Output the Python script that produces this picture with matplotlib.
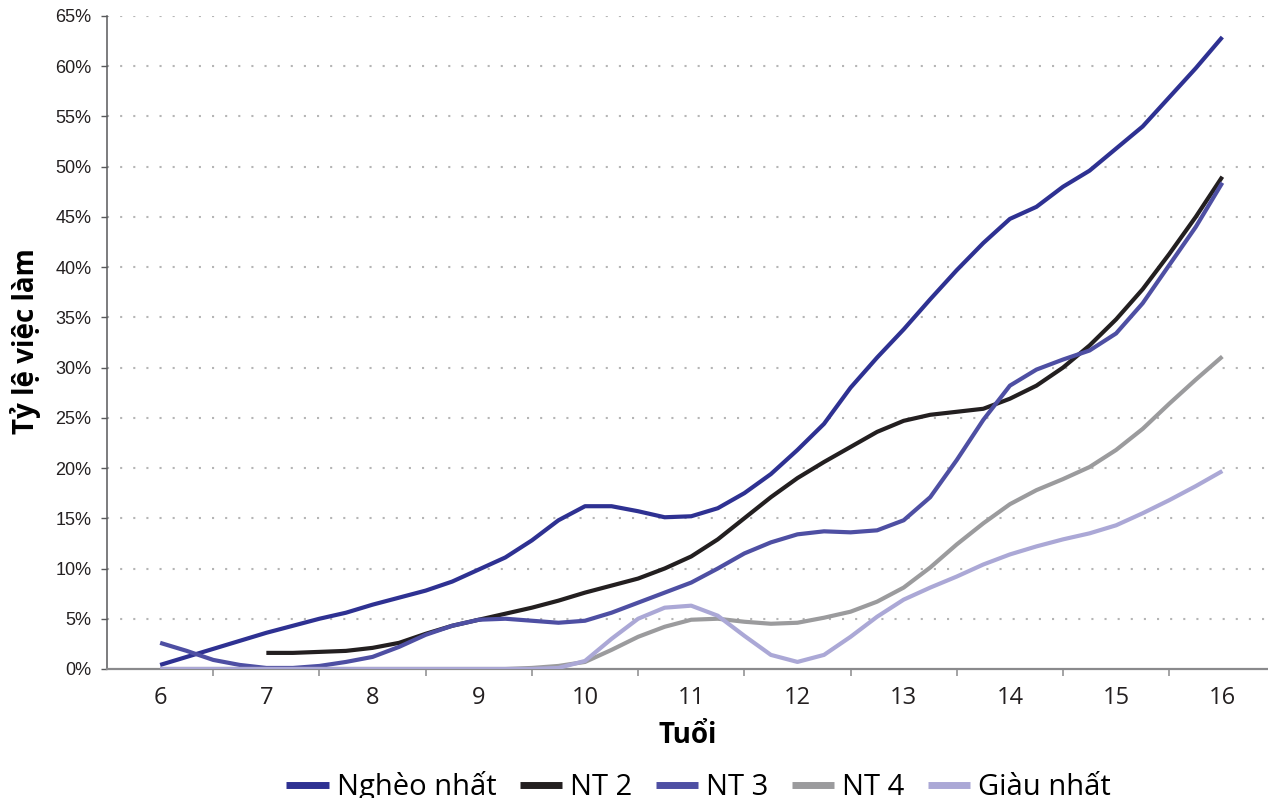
"""
Employment rate by age and wealth quintile (Vietnamese labels).

Output:
- out.png
"""

import numpy as np
import matplotlib.pyplot as plt
from matplotlib.ticker import FixedLocator, FuncFormatter

# Ages read at quarter-year steps
AGES = [6 + 0.25 * i for i in range(41)]

# Employment rate (%) per wealth quintile
POOREST = [0.4, 1.2, 2.0, 2.8, 3.6, 4.3, 5.0, 5.6, 6.4, 7.1, 7.8, 8.7, 9.9, 11.1,
           12.8, 14.8, 16.2, 16.2, 15.7, 15.1, 15.2, 16.0, 17.5, 19.4, 21.8, 24.4,
           28.0, 31.0, 33.8, 36.8, 39.7, 42.4, 44.8, 46.0, 48.0, 49.6, 51.8, 54.0,
           56.9, 59.8, 62.9]
Q2 = [np.nan, np.nan, np.nan, np.nan, 1.6, 1.6, 1.7, 1.8, 2.1, 2.6, 3.5, 4.3, 4.9,
      5.5, 6.1, 6.8, 7.6, 8.3, 9.0, 10.0, 11.2, 12.9, 15.0, 17.1, 19.0, 20.6, 22.1,
      23.6, 24.7, 25.3, 25.6, 25.9, 26.9, 28.2, 30.0, 32.2, 34.8, 37.8, 41.3, 45.0,
      49.0]
Q3 = [2.6, 1.8, 0.9, 0.4, 0.1, 0.1, 0.3, 0.7, 1.2, 2.2, 3.4, 4.3, 4.9, 5.0, 4.8,
      4.6, 4.8, 5.6, 6.6, 7.6, 8.6, 10.0, 11.5, 12.6, 13.4, 13.7, 13.6, 13.8, 14.8,
      17.1, 20.8, 24.8, 28.2, 29.8, 30.8, 31.7, 33.4, 36.4, 40.2, 44.0, 48.4]
Q4 = [0.0, 0.0, 0.0, 0.0, 0.0, 0.0, 0.0, 0.0, 0.0, 0.0, 0.0, 0.0, 0.0, 0.0, 0.1,
      0.3, 0.7, 1.9, 3.2, 4.2, 4.9, 5.0, 4.7, 4.5, 4.6, 5.1, 5.7, 6.7, 8.1, 10.1,
      12.4, 14.5, 16.4, 17.8, 18.9, 20.1, 21.8, 23.9, 26.4, 28.8, 31.1]
RICHEST = [0.0, 0.0, 0.0, 0.0, 0.0, 0.0, 0.0, 0.0, 0.0, 0.0, 0.0, 0.0, 0.0, 0.0,
           0.0, 0.1, 0.8, 3.0, 5.0, 6.1, 6.3, 5.3, 3.3, 1.4, 0.7, 1.4, 3.2, 5.2,
           6.9, 8.1, 9.2, 10.4, 11.4, 12.2, 12.9, 13.5, 14.3, 15.5, 16.8, 18.2, 19.7]

SERIES_NAMES = ["Nghèo nhất", "NT 2", "NT 3", "NT 4", "Giàu nhất"]
SERIES_COLORS = ["#2e3192", "#231f20", "#4e4fa3", "#9b9b9d", "#aba8d6"]

X_TICKS = list(range(6, 17))
Y_TICKS = list(range(0, 70, 5))


def main():
    fig = plt.figure(figsize=(12.68, 7.98), dpi=100)
    ax = fig.add_axes([0.0844, 0.1617, 0.9156, 0.8183])

    # Dotted horizontal gridlines (not at 0)
    for y in Y_TICKS[1:]:
        ax.axhline(y, color="#b5b5b5", lw=1.5, ls=(0, (1, 5.3)), zorder=1)

    series = [POOREST, Q2, Q3, Q4, RICHEST]
    handles = []
    for name, vals, color in zip(SERIES_NAMES, series, SERIES_COLORS):
        line, = ax.plot(AGES, vals, color=color, lw=3, label=name,
                        solid_capstyle="butt", solid_joinstyle="round", zorder=3)
        handles.append(line)

    ax.set_xlim(5.5, 16.43)
    ax.set_ylim(0, 65)

    # Axes styling
    ax.spines["top"].set_visible(False)
    ax.spines["right"].set_visible(False)
    ax.spines["left"].set_color("#58595b")
    ax.spines["left"].set_linewidth(1.1)
    ax.spines["bottom"].set_color("#8a8a8c")
    ax.spines["bottom"].set_linewidth(1.6)

    ax.set_yticks(Y_TICKS)
    ax.yaxis.set_major_formatter(FuncFormatter(lambda v, p: f"{int(v)}%"))
    ax.tick_params(axis="y", length=4.3, width=1, color="#58595b", pad=7,
                   labelsize=13, labelcolor="#231f20")
    for lab in ax.get_yticklabels():
        lab.set_family("Liberation Sans")

    ax.set_xticks(X_TICKS)
    ax.xaxis.set_minor_locator(FixedLocator([x + 0.5 for x in X_TICKS]))
    ax.tick_params(axis="x", which="major", length=0, pad=12, labelsize=17,
                   labelcolor="#231f20")
    ax.tick_params(axis="x", which="minor", length=5, width=1.1, color="#8a8a8c")
    for lab in ax.get_xticklabels():
        lab.set_family("Open Sans")

    ax.set_xlabel("Tuổi", fontsize=20, fontweight="bold", family="Open Sans",
                  labelpad=8, color="#000000")
    fig.text(0.02, 0.573, "Tỷ lệ việc làm", rotation=90, fontsize=20,
             fontweight="bold", family="Open Sans", ha="center", va="center")

    leg = fig.legend(handles=handles, loc="center", bbox_to_anchor=(0.551, 0.014),
                     ncol=5, frameon=False, handlelength=1.45, handletextpad=0.28,
                     columnspacing=0.8, prop={"family": "Open Sans", "size": 21})
    for h in leg.legend_handles:
        h.set_linewidth(5)

    fig.savefig("out.png", dpi=100)
    plt.close(fig)


if __name__ == "__main__":
    main()
